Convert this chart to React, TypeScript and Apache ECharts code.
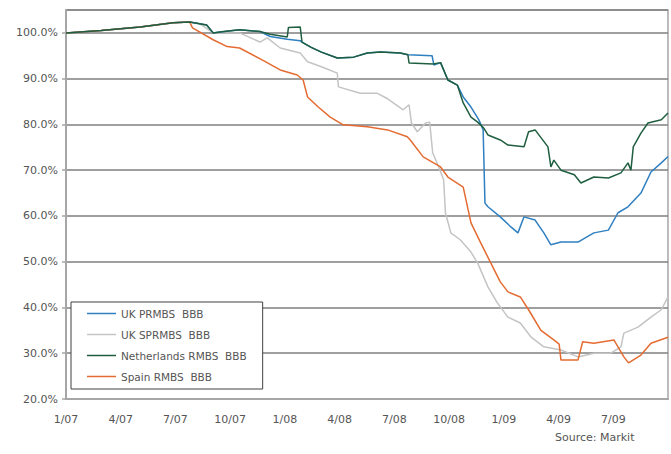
import React, { useEffect, useRef } from "react";
import * as echarts from "echarts";

// Series data: [date, percent of par]
const ukPrmbs: [string, number][] = [
  ["2007-01-01", 100.0], ["2007-02-27", 100.5], ["2007-05-03", 101.3], ["2007-06-27", 102.2],
  ["2007-07-25", 102.4], ["2007-08-11", 102.0], ["2007-08-23", 101.7], ["2007-09-03", 100.0],
  ["2007-09-14", 100.2], ["2007-10-17", 100.7], ["2007-11-20", 100.3], ["2007-12-07", 99.2],
  ["2008-01-05", 98.6], ["2008-01-27", 98.3], ["2008-01-30", 98.0], ["2008-02-13", 96.9],
  ["2008-03-01", 95.8], ["2008-03-28", 94.5], ["2008-04-24", 94.7], ["2008-05-17", 95.6],
  ["2008-06-08", 95.8], ["2008-07-11", 95.6], ["2008-07-24", 95.2], ["2008-09-03", 95.0],
  ["2008-09-06", 93.0], ["2008-09-17", 93.5], ["2008-09-29", 89.7], ["2008-10-15", 88.6],
  ["2008-10-25", 86.0], ["2008-11-07", 83.8], ["2008-11-20", 81.0], ["2008-11-27", 78.8],
  ["2008-11-30", 62.8], ["2008-12-05", 62.0], ["2008-12-26", 59.8], ["2009-01-13", 57.6],
  ["2009-01-25", 56.3], ["2009-02-04", 59.8], ["2009-02-21", 59.1], ["2009-03-07", 56.3],
  ["2009-03-19", 53.7], ["2009-04-05", 54.3], ["2009-05-03", 54.3], ["2009-05-30", 56.3],
  ["2009-06-23", 56.9], ["2009-07-09", 60.7], ["2009-07-26", 62.0], ["2009-08-17", 65.0],
  ["2009-09-03", 69.6], ["2009-09-20", 71.6], ["2009-10-01", 73.0],
];

const ukSprmbs: [string, number][] = [
  ["2007-01-01", 100.0], ["2007-02-27", 100.5], ["2007-05-03", 101.3], ["2007-06-27", 102.2],
  ["2007-07-25", 102.4], ["2007-08-11", 102.0], ["2007-09-03", 100.0], ["2007-10-17", 100.0],
  ["2007-11-20", 98.0], ["2007-12-02", 98.9], ["2007-12-24", 96.7], ["2008-01-27", 95.6],
  ["2008-02-08", 93.7], ["2008-03-01", 92.6], ["2008-03-28", 91.2], ["2008-03-30", 88.2],
  ["2008-05-05", 86.8], ["2008-06-03", 86.8], ["2008-06-20", 85.6], ["2008-07-16", 83.2],
  ["2008-07-26", 84.3], ["2008-07-30", 80.3], ["2008-08-09", 78.4], ["2008-08-23", 80.3],
  ["2008-08-30", 80.5], ["2008-09-04", 73.8], ["2008-09-14", 70.7], ["2008-09-22", 67.9],
  ["2008-09-25", 60.7], ["2008-10-04", 56.3], ["2008-10-20", 54.8], ["2008-11-07", 52.1],
  ["2008-11-18", 49.7], ["2008-12-05", 44.5], ["2008-12-21", 41.0], ["2009-01-08", 37.9],
  ["2009-01-29", 36.6], ["2009-02-15", 33.5], ["2009-03-07", 31.4], ["2009-04-05", 30.7],
  ["2009-05-03", 29.2], ["2009-05-30", 30.0], ["2009-06-27", 30.0], ["2009-07-14", 31.4],
  ["2009-07-19", 34.4], ["2009-08-12", 35.7], ["2009-09-03", 37.9], ["2009-09-20", 39.5],
  ["2009-10-01", 42.3],
];

const nlRmbs: [string, number][] = [
  ["2007-01-01", 100.0], ["2007-02-27", 100.5], ["2007-05-03", 101.3], ["2007-06-27", 102.2],
  ["2007-07-25", 102.4], ["2007-08-11", 102.0], ["2007-08-23", 101.7], ["2007-09-03", 100.0],
  ["2007-09-14", 100.2], ["2007-10-17", 100.7], ["2007-11-20", 100.3], ["2007-12-07", 99.7],
  ["2008-01-05", 99.1], ["2008-01-07", 101.2], ["2008-01-27", 101.3], ["2008-01-30", 98.0],
  ["2008-02-13", 96.9], ["2008-03-01", 95.8], ["2008-03-28", 94.5], ["2008-04-24", 94.7],
  ["2008-05-17", 95.6], ["2008-06-08", 95.8], ["2008-07-11", 95.6], ["2008-07-24", 95.2],
  ["2008-07-26", 93.4], ["2008-09-05", 93.2], ["2008-09-17", 93.5], ["2008-09-29", 89.7],
  ["2008-10-15", 88.6], ["2008-10-25", 84.7], ["2008-11-07", 81.6], ["2008-11-18", 80.5],
  ["2008-11-28", 79.2], ["2008-12-05", 77.7], ["2008-12-26", 76.6], ["2009-01-08", 75.5],
  ["2009-02-04", 75.1], ["2009-02-11", 78.4], ["2009-02-21", 78.8], ["2009-03-14", 75.1],
  ["2009-03-19", 70.7], ["2009-03-24", 72.2], ["2009-04-05", 70.0], ["2009-04-27", 69.0],
  ["2009-05-08", 67.2], ["2009-05-30", 68.5], ["2009-06-23", 68.3], ["2009-07-14", 69.4],
  ["2009-07-26", 71.6], ["2009-07-31", 70.0], ["2009-08-04", 75.1], ["2009-08-17", 78.1],
  ["2009-08-29", 80.3], ["2009-09-20", 81.0], ["2009-10-01", 82.5],
];

const spainRmbs: [string, number][] = [
  ["2007-01-01", 100.0], ["2007-02-27", 100.5], ["2007-05-03", 101.3], ["2007-06-27", 102.2],
  ["2007-07-25", 102.4], ["2007-07-30", 101.1], ["2007-09-03", 98.5], ["2007-09-26", 97.0],
  ["2007-10-17", 96.7], ["2007-11-25", 94.0], ["2007-12-24", 91.9], ["2008-01-22", 90.8],
  ["2008-02-01", 89.7], ["2008-02-08", 86.0], ["2008-02-25", 83.8], ["2008-03-16", 81.6],
  ["2008-04-07", 79.9], ["2008-05-17", 79.5], ["2008-06-20", 78.8], ["2008-07-23", 77.3],
  ["2008-07-28", 76.6], ["2008-08-19", 72.9], ["2008-09-17", 70.7], ["2008-09-29", 68.5],
  ["2008-10-25", 66.3], ["2008-11-07", 58.5], ["2008-11-23", 54.1], ["2008-12-10", 49.7],
  ["2008-12-26", 45.6], ["2009-01-08", 43.4], ["2009-01-29", 42.3], ["2009-02-11", 39.5],
  ["2009-03-02", 35.0], ["2009-03-24", 32.9], ["2009-04-02", 32.0], ["2009-04-05", 28.5],
  ["2009-05-03", 28.5], ["2009-05-11", 32.5], ["2009-05-30", 32.2], ["2009-07-02", 32.9],
  ["2009-07-19", 29.2], ["2009-07-27", 27.9], ["2009-08-17", 29.6], ["2009-09-03", 32.2],
  ["2009-10-01", 33.5],
];

const seriesNames = ["UK PRMBS  BBB", "UK SPRMBS  BBB", "Netherlands RMBS  BBB", "Spain RMBS  BBB"];
const sourceText = "Source: Markit";

const FONT = "DejaVu Sans";

function toMonth(d: string): number {
  const [y, mo, da] = d.split("-").map(Number);
  const dim = new Date(y, mo, 0).getDate();
  return (y - 2007) * 12 + (mo - 1) + (da - 1) / dim;
}

function fmtMonth(m: number): string {
  const mi = Math.round(m);
  const month = (mi % 12) + 1;
  const yy = 7 + Math.floor(mi / 12);
  return `${month}/${yy < 10 ? "0" + yy : yy}`;
}

export default function App() {
  const ref = useRef<HTMLDivElement>(null);
  useEffect(() => {
    if (!ref.current) return;
    const chart = echarts.init(ref.current, undefined, { renderer: "svg" });
    const mk = (name: string, pts: [string, number][], color: string, z: number) => ({
      name,
      type: "line",
      data: pts.map(([d, v]) => [toMonth(d), v]),
      symbol: "none",
      z,
      lineStyle: { color, width: 1.5 },
      itemStyle: { color },
    });
    chart.setOption({
      animation: false,
      backgroundColor: "#ffffff",
      grid: {
        left: 66, right: 3, top: 10, bottom: 55,
        show: true, borderColor: "#a6a6a6", borderWidth: 1.5, backgroundColor: "#ffffff",
      },
      xAxis: {
        type: "value", min: 0, max: 33, interval: 3,
        axisLine: { show: true, lineStyle: { color: "#a6a6a6", width: 2 } },
        axisTick: { show: false },
        splitLine: { show: false },
        axisLabel: {
          margin: 15, color: "#555", fontFamily: FONT, fontSize: 11,
          showMaxLabel: false,
          formatter: (v: number) => fmtMonth(v),
        },
      },
      yAxis: {
        type: "value", min: 20, max: 105, interval: 10,
        axisLine: { show: true, lineStyle: { color: "#a6a6a6", width: 2 } },
        axisTick: { show: true, length: 4, lineStyle: { color: "#a6a6a6", width: 1.5 } },
        splitLine: { show: true, lineStyle: { color: "#7f7f7f", width: 1.5 } },
        axisLabel: {
          margin: 8, color: "#555", fontFamily: FONT, fontSize: 11,
          showMaxLabel: false,
          formatter: (v: number) => (v > 100 ? "" : v.toFixed(1) + "%"),
        },
      },
      legend: {
        data: seriesNames,
        orient: "vertical",
        left: 71, top: 302,
        backgroundColor: "#ffffff",
        borderColor: "#404040", borderWidth: 1,
        padding: [5, 16, 6, 16],
        icon: "rect",
        itemWidth: 29, itemHeight: 1.5, itemGap: 8,
        textStyle: { color: "#555", fontFamily: FONT, fontSize: 10.5, lineHeight: 13 },
      },
      graphic: [
        {
          type: "text", left: 555, top: 432, z: 10,
          style: { text: sourceText, fill: "#555", font: `11px '${FONT}'` },
        },
      ],
      series: [
        mk(seriesNames[1], ukSprmbs, "#c4c4c4", 2),
        mk(seriesNames[0], ukPrmbs, "#2f7fc1", 3),
        mk(seriesNames[3], spainRmbs, "#e46c32", 4),
        mk(seriesNames[2], nlRmbs, "#1f5e3f", 5),
      ],
    });
    return () => chart.dispose();
  }, []);
  return (
    <div
      ref={ref}
      style={{ position: "fixed", left: 0, top: 0, width: 671, height: 454, background: "#fff" }}
    />
  );
}
